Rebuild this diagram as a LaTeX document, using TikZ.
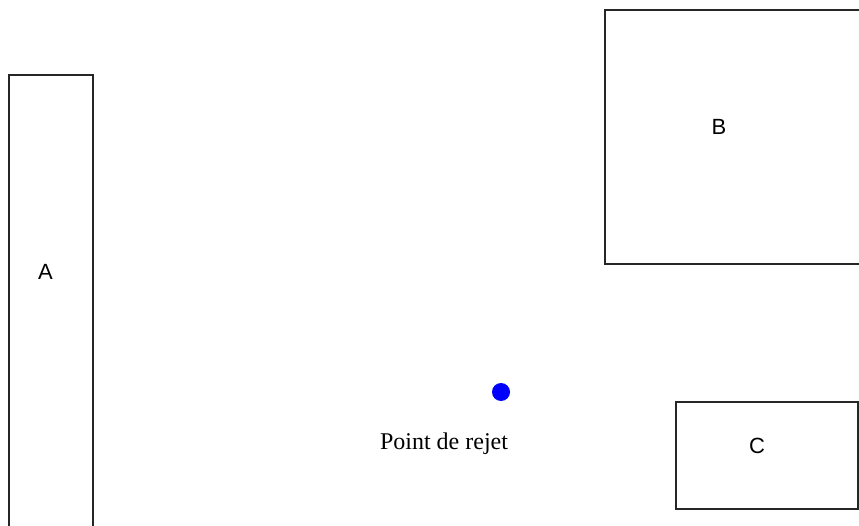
\documentclass[tikz,border=0pt]{standalone}
\usepackage{fontspec}
\setmainfont{Liberation Serif}
\setsansfont{Liberation Sans}
\begin{document}
\begin{tikzpicture}
[x=1pt, y=-1pt,
zone/.style={draw=black!85, line width=1.6pt},
tag/.style={font=\sffamily\fontsize{22}{26}\selectfont, anchor=base, inner sep=0pt}
]
\tikzset{every node/.style={inner sep=0pt}}
\useasboundingbox (0,0) rectangle (859,526);
\clip (0,0) rectangle (859,526);
% zones
\draw[zone] (9,75) rectangle (93,545);
\draw[zone] (605,10) rectangle (875,264);
\draw[zone] (676,402) rectangle (858,509);
\node[tag] (a) at (45.5,280) {A};
\node[tag] (b) at (719,135) {B};
\node[tag] (c) at (757,453) {C};
% rejet
\node[circle, fill=blue, minimum size=18pt] (rejet) at (501,392) {};
\node[anchor=base, font=\fontsize{24}{28}\selectfont] (rejetlabel) at (444,449) {Point de rejet};
\end{tikzpicture}
\end{document}
